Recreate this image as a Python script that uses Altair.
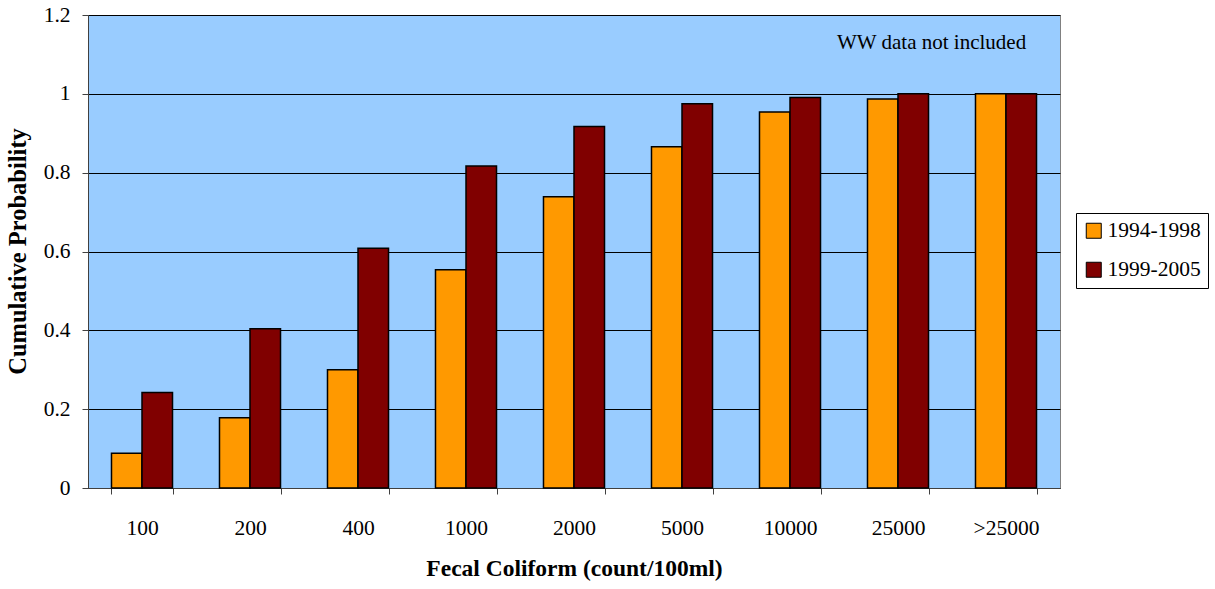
import altair as alt
import pandas as pd

categories = ["100", "200", "400", "1000", "2000", "5000", "10000", "25000", ">25000"]
series = ["1994-1998", "1999-2005"]
vals_1994 = [0.088, 0.178, 0.300, 0.554, 0.739, 0.866, 0.954, 0.987, 1.0]
vals_1999 = [0.242, 0.404, 0.608, 0.817, 0.917, 0.975, 0.991, 1.0, 1.0]
colors = ["#FF9900", "#800000"]

rows = []
for c, a, b in zip(categories, vals_1994, vals_1999):
    rows.append({"cat": c, "series": series[0], "value": a})
    rows.append({"cat": c, "series": series[1], "value": b})
df = pd.DataFrame(rows)

FONT = "Liberation Serif"

bars = alt.Chart(df).mark_bar(stroke="black", strokeWidth=1.5).encode(
    x=alt.X("cat:N", sort=categories,
            scale=alt.Scale(paddingInner=0.435, paddingOuter=0.2175),
            axis=alt.Axis(title="Fecal Coliform (count/100ml)", labelAngle=0,
                          tickBand="extent", tickSize=6, labelPadding=34,
                          labelBaseline="middle",
                          labelFontSize=21.5, labelFont=FONT, labelColor="black",
                          titleFont=FONT, titleFontSize=23.5, titleFontWeight="bold",
                          titleColor="black", titleY=80, titleBaseline="middle",
                          domainColor="#404040", tickColor="#404040")),
    xOffset=alt.XOffset("series:N", sort=series,
                        scale=alt.Scale(paddingInner=0, paddingOuter=0)),
    y=alt.Y("value:Q", scale=alt.Scale(domain=[0, 1.2], nice=False),
            axis=alt.Axis(title="Cumulative Probability", values=[0, 0.2, 0.4, 0.6, 0.8, 1.0, 1.2],
                          format="~g", grid=True, gridColor="black", gridOpacity=1, gridWidth=1,
                          tickSize=6, labelPadding=12, labelFontSize=21.5, labelFont=FONT,
                          labelColor="black", titleFont=FONT, titleFontSize=24.5,
                          titleFontWeight="bold", titleColor="black",
                          titleX=-70, titleY=236, titleAlign="center", titleBaseline="middle",
                          domainColor="#404040", tickColor="#404040")),
    color=alt.Color("series:N", sort=series,
                    scale=alt.Scale(domain=series, range=colors),
                    legend=alt.Legend(title=None, orient="none", legendX=988, legendY=198,
                                      symbolType="square", symbolSize=225,
                                      symbolStrokeColor="black", symbolStrokeWidth=1,
                                      symbolOpacity=1, labelOffset=3,
                                      labelFont=FONT, labelFontSize=21.5, labelColor="black",
                                      rowPadding=16, padding=7,
                                      strokeColor="black", fillColor="white")),
)

note = alt.Chart(pd.DataFrame({"t": ["WW data not included"]})).mark_text(
    font=FONT, fontSize=21, align="left", baseline="middle", color="black"
).encode(x=alt.value(749), y=alt.value(28), text="t:N")

chart = alt.layer(bars, note).properties(
    width=972, height=473,
    autosize=alt.AutoSizeParams(type="none"),
    padding={"left": 88, "top": 15, "right": 155, "bottom": 101},
    background="white",
).configure_view(fill="#99CCFF", stroke="#808080", strokeWidth=1)

chart.save("out.html", embed_options={"renderer": "svg", "actions": False})
